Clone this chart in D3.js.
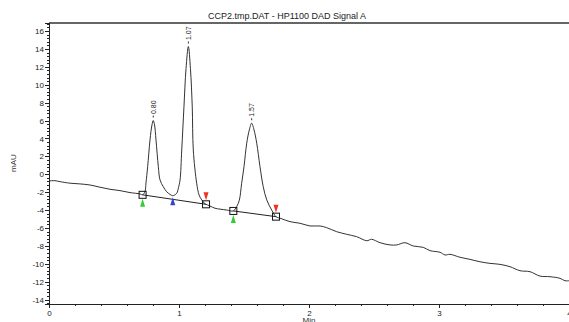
<!DOCTYPE html>
<html>
<head>
<meta charset="utf-8">
<script src="https://cdn.jsdelivr.net/npm/d3@7/dist/d3.min.js"></script>
<style>
  body { margin: 0; background: #fff; }
  svg { display: block; font-family: "Liberation Sans", Arial, sans-serif; }
  .axis text { font-size: 8px; fill: #222; }
  .axis path, .axis line { stroke: #222; shape-rendering: crispEdges; }
</style>
</head>
<body>
<svg id="chart" width="569" height="322"></svg>
<script>
// signal trace (time in min, response in mAU)
const time = [
  0.000, 0.046, 0.085, 0.162, 0.238, 0.315, 0.392, 0.469, 0.546, 0.623, 0.700, 0.720,
  0.738, 0.746, 0.759, 0.777, 0.792, 0.802, 0.812, 0.823, 0.841, 0.854, 0.879, 0.905,
  0.931, 0.952, 0.982, 0.996, 1.008, 1.021, 1.038, 1.054, 1.072, 1.088, 1.102, 1.110,
  1.136, 1.154, 1.175, 1.200, 1.208, 1.238, 1.277, 1.315, 1.367, 1.418,
  1.444, 1.464, 1.482, 1.500, 1.521, 1.541, 1.559, 1.577, 1.598, 1.623, 1.648, 1.675,
  1.713, 1.746, 1.785, 1.854, 1.931, 2.008, 2.085, 2.136, 2.213, 2.290, 2.367, 2.444,
  2.482, 2.546, 2.623, 2.675, 2.738, 2.802, 2.879, 2.931, 3.008, 3.046, 3.085, 3.162,
  3.238, 3.315, 3.392, 3.469, 3.546, 3.623, 3.700, 3.777, 3.854, 3.931, 3.969, 4.000,
];
const signal = [
  -0.75, -0.72, -0.83, -1.00, -1.08, -1.20, -1.45, -1.68, -1.83, -2.05, -2.20, -2.30,
  -1.95, -0.97, 0.85, 3.84, 5.50, 6.00, 5.50, 3.84, 0.85, -0.64, -1.39, -1.95,
  -2.25, -2.40, -2.13, -1.50, -0.64, 2.70, 7.50, 11.80, 14.27, 11.80, 7.50, 2.70,
  -1.00, -2.30, -2.87, -3.30, -3.36, -3.55, -3.80, -3.90, -4.00, -4.10,
  -3.60, -2.90, -1.00, 0.85, 3.47, 4.96, 5.70, 4.96, 3.47, 0.85, -1.39, -2.87,
  -4.00, -4.74, -4.95, -5.30, -5.48, -5.78, -5.78, -5.97, -6.42, -6.71, -6.98, -7.43,
  -7.27, -7.65, -7.90, -7.90, -7.65, -8.02, -8.17, -8.54, -8.72, -9.02, -8.95, -9.28,
  -9.51, -9.78, -9.96, -10.07, -10.33, -10.78, -10.89, -11.38, -11.45, -11.63, -11.90, -11.90,
];

// peak apexes and their labels
const peakTime = [0.802, 1.072, 1.559];
const peakHeight = [6.00, 14.27, 5.70];
const peakLabel = ['0.80', '1.07', '1.57'];

// integration baselines: [start, end] pairs
const baseStartTime = [0.720, 1.418];
const baseStartValue = [-2.30, -4.10];
const baseEndTime = [1.208, 1.746];
const baseEndValue = [-3.36, -4.74];

// valley drop line marker
const dropTime = [0.952];
const dropValue = [-2.40];

const xTicks = [0, 1, 2, 3, 4];
const yTicks = [-14, -12, -10, -8, -6, -4, -2, 0, 2, 4, 6, 8, 10, 12, 14, 16];

const svg = d3.select('#chart');
const m = { left: 49, right: 569, top: 23, bottom: 304 };

const x = d3.scaleLinear().domain([0, 4]).range([m.left, m.right]);
const y = d3.scaleLinear().domain([-14.5, 16.9]).range([m.bottom, m.top]);

// title
svg.append('text')
  .attr('x', 287).attr('y', 19)
  .attr('text-anchor', 'middle')
  .style('font-size', '9px')
  .style('fill', '#222')
  .text('CCP2.tmp.DAT - HP1100 DAD Signal A');

// top frame line
svg.append('line')
  .attr('x1', m.left).attr('x2', m.right)
  .attr('y1', m.top).attr('y2', m.top)
  .attr('stroke', '#666').attr('stroke-width', 2);

// minor ticks
svg.append('g').attr('class', 'axis')
  .attr('transform', `translate(0,${m.bottom})`)
  .call(d3.axisBottom(x).tickValues(d3.range(0, 4.001, 0.2)).tickSize(2).tickFormat(''));
svg.append('g').attr('class', 'axis')
  .attr('transform', `translate(${m.left},0)`)
  .call(d3.axisLeft(y).tickValues(d3.range(-14.4, 16.9, 0.4)).tickSize(2).tickFormat(''));

// major ticks
const xAxis = svg.append('g').attr('class', 'axis')
  .attr('transform', `translate(0,${m.bottom})`)
  .call(d3.axisBottom(x).tickValues(xTicks).tickSize(4).tickPadding(2).tickFormat(d => String(d)));
const yAxis = svg.append('g').attr('class', 'axis')
  .attr('transform', `translate(${m.left},0)`)
  .call(d3.axisLeft(y).tickValues(yTicks).tickSize(4).tickPadding(1).tickFormat(d => String(d)));
xAxis.select('.domain').attr('stroke-width', 1.5);
yAxis.select('.domain').attr('stroke-width', 1.5);

// axis titles
svg.append('text')
  .attr('x', 309).attr('y', 323)
  .attr('text-anchor', 'middle')
  .style('font-size', '8px').style('fill', '#333')
  .text('Min');
svg.append('text')
  .attr('transform', 'translate(16,163) rotate(-90)')
  .attr('text-anchor', 'middle')
  .style('font-size', '8px').style('fill', '#333')
  .text('mAU');

// signal
const pts = time.map((t, i) => [t, signal[i]]);
svg.append('path')
  .datum(pts)
  .attr('fill', 'none')
  .attr('stroke', '#333')
  .attr('stroke-width', 1)
  .attr('d', d3.line().x(d => x(d[0])).y(d => y(d[1])).curve(d3.curveCatmullRom.alpha(0.5)));

// baselines
svg.selectAll('line.base')
  .data(baseStartTime)
  .enter().append('line')
  .attr('class', 'base')
  .attr('x1', (d, i) => x(d)).attr('y1', (d, i) => y(baseStartValue[i]))
  .attr('x2', (d, i) => x(baseEndTime[i])).attr('y2', (d, i) => y(baseEndValue[i]))
  .attr('stroke', '#222').attr('stroke-width', 1);

// square markers at baseline points
const squares = baseStartTime.map((t, i) => [t, baseStartValue[i]])
  .concat(baseEndTime.map((t, i) => [t, baseEndValue[i]]));
svg.selectAll('rect.sq')
  .data(squares)
  .enter().append('rect')
  .attr('class', 'sq')
  .attr('x', d => x(d[0]) - 3.5).attr('y', d => y(d[1]) - 3.5)
  .attr('width', 7).attr('height', 7)
  .attr('fill', 'none').attr('stroke', '#111').attr('stroke-width', 1);

// triangle markers
const upTri = (cx, top) => `M${cx},${top}L${cx + 2.5},${top + 8}L${cx - 2.5},${top + 8}Z`;
const downTri = (cx, bot) => `M${cx},${bot}L${cx + 2.5},${bot - 8}L${cx - 2.5},${bot - 8}Z`;

svg.selectAll('path.start')
  .data(baseStartTime)
  .enter().append('path')
  .attr('class', 'start')
  .attr('d', (d, i) => upTri(x(d), y(baseStartValue[i]) + 4))
  .attr('fill', '#33cc33');
svg.selectAll('path.end')
  .data(baseEndTime)
  .enter().append('path')
  .attr('class', 'end')
  .attr('d', (d, i) => downTri(x(d), y(baseEndValue[i]) - 4))
  .attr('fill', '#ee3322');
svg.selectAll('path.drop')
  .data(dropTime)
  .enter().append('path')
  .attr('class', 'drop')
  .attr('d', (d, i) => upTri(x(d), y(dropValue[i]) + 1.5))
  .attr('fill', '#3344cc');

// peak labels
peakTime.forEach((t, i) => {
  const px = x(t), py = y(peakHeight[i]);
  svg.append('line')
    .attr('x1', px).attr('x2', px)
    .attr('y1', py - 3).attr('y2', py - 5)
    .attr('stroke', '#333');
  svg.append('text')
    .attr('transform', `translate(${px + 2.5},${py - 6.5}) rotate(-90)`)
    .style('font-size', '7px').style('fill', '#222')
    .text(peakLabel[i]);
});
</script>
</body>
</html>
